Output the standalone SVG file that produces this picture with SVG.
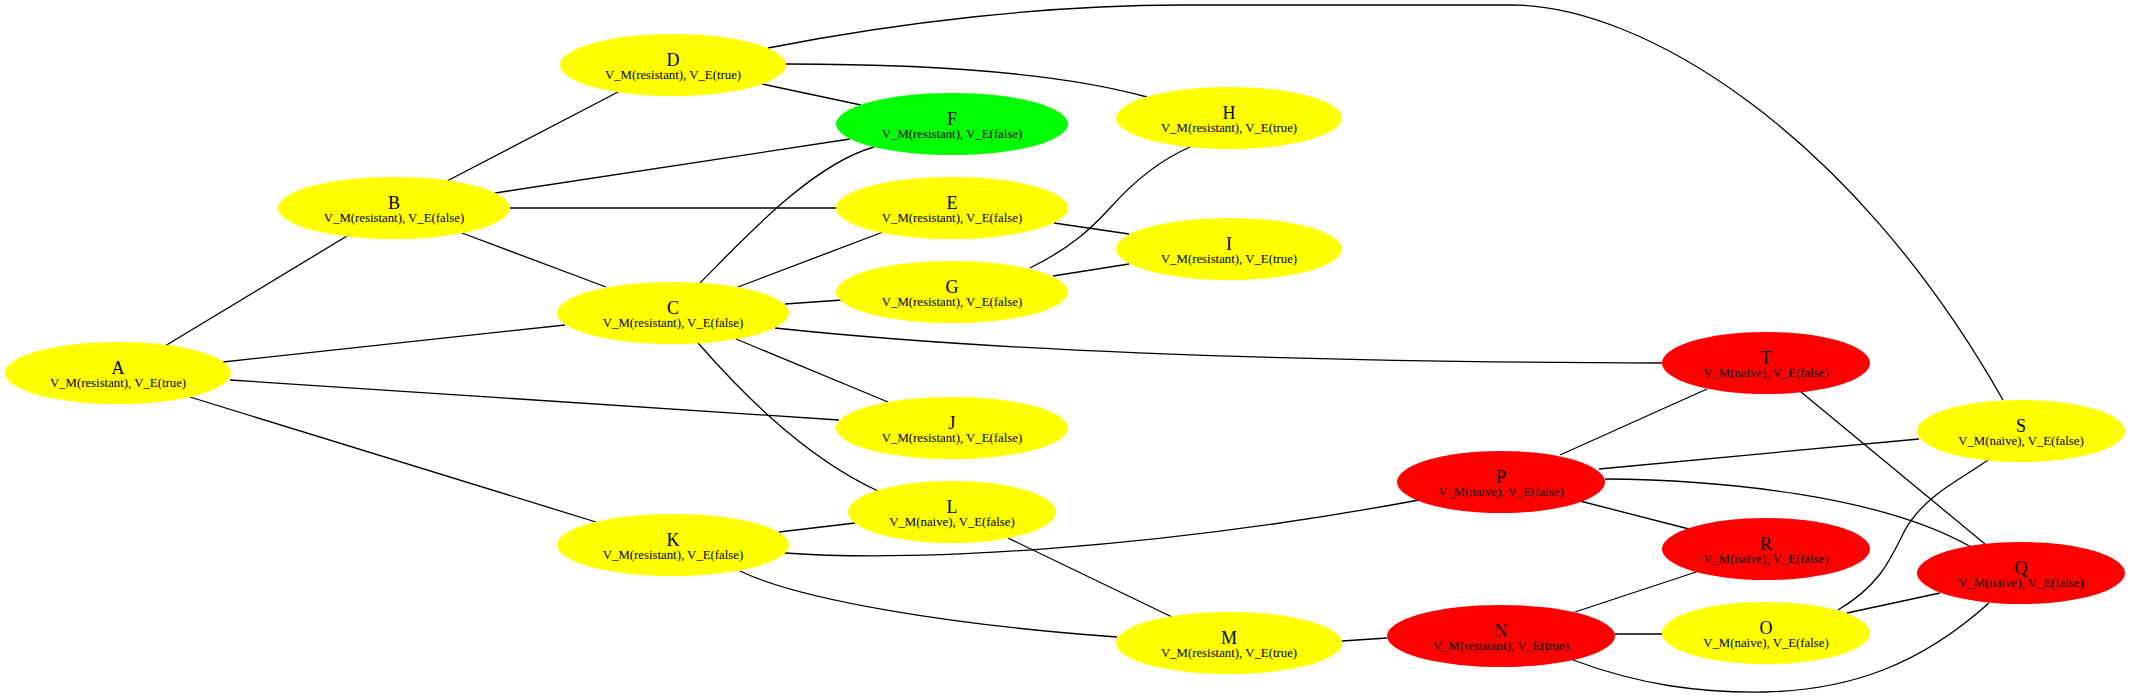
<svg xmlns="http://www.w3.org/2000/svg" width="2130" height="697" viewBox="0 0 2130 697">
<style>
.e{fill:none;stroke:#000;stroke-width:1.3}
.y{fill:#ffff00}
.g{fill:#00ff00}
.r{fill:#ff0000}
text{font-family:"Liberation Serif","Times New Roman",serif;fill:#000;text-anchor:middle}
.t{font-size:18px}
.s{font-size:12.8px}
</style>
<rect width="2130" height="697" fill="#fff"/>
<g id="edges">
<path class="e" d="M165,346 L347,236"/>
<path class="e" d="M223,362 L565,325"/>
<path class="e" d="M230,380 L839,420"/>
<path class="e" d="M190,397 L596,522"/>
<path class="e" d="M447,181 L618,92"/>
<path class="e" d="M495,193 L850,139"/>
<path class="e" d="M510,208 L836,208"/>
<path class="e" d="M462,233 L606,287"/>
<path class="e" d="M762,84 L861,105"/>
<path class="e" d="M786,64 C900,64 1050,70 1147,97"/>
<path class="e" d="M768,48 C900,22 1050,5 1180,5 L1512,5 C1640,5 1850,130 2003,400"/>
<path class="e" d="M700,283 C740,243 810,165 874,147"/>
<path class="e" d="M738,287 L883,232"/>
<path class="e" d="M785,304 L842,300"/>
<path class="e" d="M775,328 C1000,352 1300,362 1662,363"/>
<path class="e" d="M736,339 L888,402"/>
<path class="e" d="M698,343 C735,385 800,455 878,491"/>
<path class="e" d="M1054,223 L1129,234"/>
<path class="e" d="M1030,268 C1070,248 1090,230 1110,208 C1135,180 1160,160 1190,147"/>
<path class="e" d="M1053,276 L1129,264"/>
<path class="e" d="M779,532 L855,523"/>
<path class="e" d="M785,553 C910,562 1150,550 1419,500"/>
<path class="e" d="M740,571 C800,600 950,625 1117,637"/>
<path class="e" d="M1008,538 L1172,617"/>
<path class="e" d="M1342,641 L1387,638"/>
<path class="e" d="M1560,455 L1707,389"/>
<path class="e" d="M1599,469 L1919,439"/>
<path class="e" d="M1605,479 C1720,480 1880,495 1971,547"/>
<path class="e" d="M1801,392 L1985,544"/>
<path class="e" d="M1580,501 L1689,529"/>
<path class="e" d="M1575,612 L1696,572"/>
<path class="e" d="M1615,634 L1662,634"/>
<path class="e" d="M1847,613 L1940,593"/>
<path class="e" d="M1838,610 C1880,585 1890,560 1905,530 C1925,495 1960,480 1988,460"/>
<path class="e" d="M1573,660 C1640,685 1700,693 1765,692 C1850,690 1920,665 1989,603"/>
</g>
<g id="A"><ellipse class="y" cx="118" cy="373" rx="113" ry="31"/><text class="t" x="118" y="374">A</text><text class="s" x="118" y="387">V_M(resistant), V_E(true)</text></g>
<g id="B"><ellipse class="y" cx="394" cy="208" rx="116" ry="31"/><text class="t" x="394" y="209">B</text><text class="s" x="394" y="222">V_M(resistant), V_E(false)</text></g>
<g id="C"><ellipse class="y" cx="673" cy="313" rx="116" ry="31"/><text class="t" x="673" y="314">C</text><text class="s" x="673" y="327">V_M(resistant), V_E(false)</text></g>
<g id="D"><ellipse class="y" cx="673" cy="65" rx="113" ry="31"/><text class="t" x="673" y="66">D</text><text class="s" x="673" y="79">V_M(resistant), V_E(true)</text></g>
<g id="E"><ellipse class="y" cx="952" cy="208" rx="116" ry="31"/><text class="t" x="952" y="209">E</text><text class="s" x="952" y="222">V_M(resistant), V_E(false)</text></g>
<g id="F"><ellipse class="g" cx="952" cy="124" rx="116" ry="31"/><text class="t" x="952" y="125">F</text><text class="s" x="952" y="138">V_M(resistant), V_E(false)</text></g>
<g id="G"><ellipse class="y" cx="952" cy="292" rx="116" ry="31"/><text class="t" x="952" y="293">G</text><text class="s" x="952" y="306">V_M(resistant), V_E(false)</text></g>
<g id="H"><ellipse class="y" cx="1229" cy="118" rx="113" ry="31"/><text class="t" x="1229" y="119">H</text><text class="s" x="1229" y="132">V_M(resistant), V_E(true)</text></g>
<g id="I"><ellipse class="y" cx="1229" cy="249" rx="113" ry="31"/><text class="t" x="1229" y="250">I</text><text class="s" x="1229" y="263">V_M(resistant), V_E(true)</text></g>
<g id="J"><ellipse class="y" cx="952" cy="428" rx="116" ry="31"/><text class="t" x="952" y="429">J</text><text class="s" x="952" y="442">V_M(resistant), V_E(false)</text></g>
<g id="K"><ellipse class="y" cx="673" cy="545" rx="116" ry="31"/><text class="t" x="673" y="546">K</text><text class="s" x="673" y="559">V_M(resistant), V_E(false)</text></g>
<g id="L"><ellipse class="y" cx="952" cy="512" rx="104" ry="31"/><text class="t" x="952" y="513">L</text><text class="s" x="952" y="526">V_M(naive), V_E(false)</text></g>
<g id="M"><ellipse class="y" cx="1229" cy="643" rx="113" ry="31"/><text class="t" x="1229" y="644">M</text><text class="s" x="1229" y="657">V_M(resistant), V_E(true)</text></g>
<g id="N"><ellipse class="r" cx="1501" cy="636" rx="114" ry="31"/><text class="t" x="1501" y="637">N</text><text class="s" x="1501" y="650">V_M(resistant), V_E(true)</text></g>
<g id="O"><ellipse class="y" cx="1766" cy="633" rx="104" ry="31"/><text class="t" x="1766" y="634">O</text><text class="s" x="1766" y="647">V_M(naive), V_E(false)</text></g>
<g id="P"><ellipse class="r" cx="1501" cy="482" rx="104" ry="31"/><text class="t" x="1501" y="483">P</text><text class="s" x="1501" y="496">V_M(naive), V_E(false)</text></g>
<g id="Q"><ellipse class="r" cx="2021" cy="573" rx="104" ry="31"/><text class="t" x="2021" y="574">Q</text><text class="s" x="2021" y="587">V_M(naive), V_E(false)</text></g>
<g id="R"><ellipse class="r" cx="1766" cy="549" rx="104" ry="31"/><text class="t" x="1766" y="550">R</text><text class="s" x="1766" y="563">V_M(naive), V_E(false)</text></g>
<g id="S"><ellipse class="y" cx="2021" cy="431" rx="104" ry="31"/><text class="t" x="2021" y="432">S</text><text class="s" x="2021" y="445">V_M(naive), V_E(false)</text></g>
<g id="T"><ellipse class="r" cx="1766" cy="363" rx="104" ry="31"/><text class="t" x="1766" y="364">T</text><text class="s" x="1766" y="377">V_M(naive), V_E(false)</text></g>
</svg>
